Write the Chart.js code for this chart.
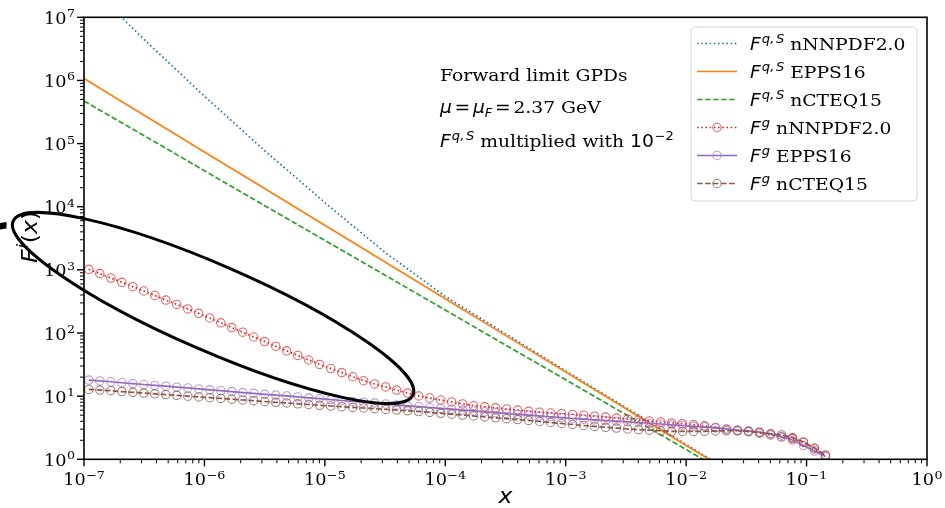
<!DOCTYPE html>
<html>
<head>
<meta charset="utf-8">
<script src="https://cdn.jsdelivr.net/npm/chart.js@4.4.1/dist/chart.umd.min.js"></script>
<style>
  html, body { margin: 0; padding: 0; background: #fff; }
  canvas { display: block; }
</style>
</head>
<body>
<canvas id="c" width="945" height="508"></canvas>
<script>
// ---- data -------------------------------------------------------------
// log10(x) of the sampled points of the gluon curves
const gluonLog10X = [
  -6.960, -6.869, -6.777, -6.686, -6.595, -6.504, -6.412, -6.321, -6.230, -6.138,
  -6.047, -5.956, -5.864, -5.773, -5.682, -5.591, -5.499, -5.408, -5.317, -5.225,
  -5.134, -5.043, -4.951, -4.860, -4.769, -4.678, -4.586, -4.495, -4.404, -4.312,
  -4.221, -4.130, -4.038, -3.947, -3.856, -3.765, -3.673, -3.582, -3.491, -3.399,
  -3.308, -3.217, -3.125, -3.034, -2.943, -2.852, -2.760, -2.669, -2.578, -2.486,
  -2.395, -2.304, -2.212, -2.121, -2.030, -1.939, -1.847, -1.756, -1.665, -1.573,
  -1.482, -1.391, -1.299, -1.208, -1.117, -1.026, -0.934, -0.843
];
const gluonNNPDF = [
  1021, 873, 743, 636, 542, 463, 393, 333, 284, 241,
  205, 173, 145, 122, 103, 86.5, 73.1, 61.8, 52.3, 44.2,
  37.4, 31.8, 27.4, 23.6, 20.3, 17.6, 15.6, 14.0, 12.5, 11.2,
  10.1, 9.35, 8.69, 8.11, 7.54, 7.06, 6.78, 6.54, 6.28, 6.01,
  5.75, 5.57, 5.41, 5.27, 5.14, 4.98, 4.82, 4.66, 4.50, 4.33,
  4.19, 4.04, 3.90, 3.77, 3.66, 3.53, 3.39, 3.18, 2.99, 2.85,
  2.74, 2.59, 2.43, 2.27, 2.13, 1.85, 1.46, 1.13
];
const gluonEPPS = [
  18.0, 17.4, 16.9, 16.3, 15.8, 15.3, 14.8, 14.4, 13.9, 13.5,
  13.0, 12.6, 12.2, 11.8, 11.4, 11.1, 10.7, 10.4, 10.1, 9.73,
  9.42, 9.12, 8.83, 8.54, 8.26, 8.02, 7.76, 7.51, 7.27, 7.04,
  6.81, 6.61, 6.40, 6.21, 6.01, 5.84, 5.65, 5.49, 5.31, 5.16,
  5.01, 4.85, 4.71, 4.56, 4.43, 4.32, 4.22, 4.12, 4.01, 3.93,
  3.83, 3.72, 3.62, 3.52, 3.43, 3.33, 3.25, 3.15, 3.02, 2.90,
  2.82, 2.69, 2.52, 2.26, 2.02, 1.65, 1.35, 1.11
];
const gluonCTEQ = [
  12.8, 12.5, 12.2, 11.8, 11.5, 11.2, 10.9, 10.6, 10.3, 9.98,
  9.73, 9.46, 9.22, 8.95, 8.69, 8.47, 8.23, 7.99, 7.80, 7.57,
  7.38, 7.17, 6.98, 6.81, 6.64, 6.49, 6.33, 6.17, 6.01, 5.86,
  5.71, 5.53, 5.35, 5.18, 5.01, 4.85, 4.69, 4.54, 4.40, 4.25,
  4.12, 3.97, 3.83, 3.69, 3.56, 3.43, 3.32, 3.21, 3.12, 3.02,
  2.95, 2.89, 2.83, 2.77, 2.76, 2.76, 2.77, 2.81, 2.83, 2.83,
  2.76, 2.68, 2.54, 2.43, 2.21, 1.88, 1.51, 1.17
];

// log10(x) of the sampled points of the quark-singlet curves (already x 1e-2)
const quarkLog10X = [-7, -6.5, -6, -5.5, -5, -4.5, -4, -3.5, -3, -2.5, -2, -1.5];
const quarkNNPDF = [3.8e7, 4.44e6, 5.62e5, 7.74e4, 1.16e4, 1890, 380, 97.7, 25.1, 6.6, 1.72, 0.45];
const quarkEPPS  = [1.07e6, 2.81e5, 7.38e4, 1.94e4, 5080, 1330, 350, 91.8, 24.1, 6.32, 1.66, 0.435];
const quarkCTEQ  = [4.73e5, 1.33e5, 3.72e4, 1.04e4, 2930, 822, 231, 64.7, 18.2, 5.09, 1.43, 0.40];

// decade exponents used for the tick labels
const xTickExponents = [-7, -6, -5, -4, -3, -2, -1, 0];
const yTickExponents = [0, 1, 2, 3, 4, 5, 6, 7];

// legend entries: [superscript, label]
const legendEntries = [
  ['q,S', 'nNNPDF2.0'],
  ['q,S', 'EPPS16'],
  ['q,S', 'nCTEQ15'],
  ['g', 'nNNPDF2.0'],
  ['g', 'EPPS16'],
  ['g', 'nCTEQ15']
];

// ---- styling ------------------------------------------------------------
const SERIF = '"DejaVu Serif", serif';
const SANS = '"DejaVu Sans", sans-serif';
const TICK_FS = 16.5;   // tick labels
const TEXT_FS = 17.5;   // legend and notes
const AXIS_FS = 22;     // axis titles
const HS = 1.07;        // horizontal stretch of the lettering
const serif = s => `${s}px ${SERIF}`;
const sans = s => `${s}px ${SANS}`;
const sansI = s => `italic ${s}px ${SANS}`;

const styles = [
  { color: '#1f77b4', dash: [1.6, 2.6], marker: false },
  { color: '#ff7f0e', dash: [],         marker: false },
  { color: '#2ca02c', dash: [5.6, 2.4], marker: false },
  { color: '#d62728', dash: [1.6, 2.6], marker: true, mcolor: 'rgba(230,60,62,0.8)' },
  { color: '#9467bd', dash: [],         marker: true, mcolor: 'rgba(160,120,210,0.75)' },
  { color: '#8c564b', dash: [5.6, 2.4], marker: true, mcolor: 'rgba(150,95,85,0.8)' }
];

function points(logXs, ys) {
  return logXs.map((e, i) => ({ x: Math.pow(10, e), y: ys[i] }));
}

const seriesData = [
  points(quarkLog10X, quarkNNPDF),
  points(quarkLog10X, quarkEPPS),
  points(quarkLog10X, quarkCTEQ),
  points(gluonLog10X, gluonNNPDF),
  points(gluonLog10X, gluonEPPS),
  points(gluonLog10X, gluonCTEQ)
];

const datasets = seriesData.map((d, i) => {
  const s = styles[i];
  return {
    label: legendEntries[i][1],
    data: d,
    borderColor: s.color,
    borderWidth: 1.7,
    borderDash: s.dash,
    tension: 0,
    fill: false,
    clip: 0,
    order: 6 - i,
    pointRadius: s.marker ? 4.2 : 0,
    pointHoverRadius: s.marker ? 4.2 : 0,
    pointBorderWidth: 1.1,
    pointBorderColor: s.mcolor || s.color,
    pointBackgroundColor: 'rgba(0,0,0,0)'
  };
});

// ---- text helpers --------------------------------------------------------
function runsWidth(ctx, parts) {
  let w = 0;
  for (const p of parts) { ctx.font = p.font; w += ctx.measureText(p.t).width + (p.gap || 0); }
  return w;
}
// draws a row of differently styled text pieces, stretched horizontally by HS
function drawRuns(ctx, parts, x, y, align) {
  const w = runsWidth(ctx, parts) * HS;
  const x0 = align === 'center' ? x - w / 2 : align === 'right' ? x - w : x;
  ctx.save();
  ctx.translate(x0, y);
  ctx.scale(HS, 1);
  ctx.textAlign = 'left';
  ctx.textBaseline = 'alphabetic';
  let cx = 0;
  for (const p of parts) {
    ctx.font = p.font;
    cx += (p.gap || 0);
    ctx.fillText(p.t, cx, p.dy || 0);
    cx += ctx.measureText(p.t).width;
  }
  ctx.restore();
  return w;
}
function powerLabel(exp) {
  const e = exp < 0 ? '\u2212' + (-exp) : String(exp);
  return [{ t: '10', font: serif(TICK_FS) }, { t: e, font: serif(11.8), dy: -6.5, gap: 0.5 }];
}
function fLabel(sup, fs) {
  const ss = fs * 0.7;
  if (sup === 'q,S') {
    return [{ t: 'F', font: sansI(fs) },
            { t: 'q,', font: sansI(ss), dy: -7, gap: 1 },
            { t: 'S', font: sansI(ss), dy: -7, gap: 1.5 }];
  }
  return [{ t: 'F', font: sansI(fs) }, { t: sup, font: sansI(ss), dy: -7, gap: 1 }];
}

// ---- decoration plugin: frame, ticks, labels, notes, legend ----------------
const decor = {
  id: 'decor',
  afterDraw(chart) {
    const ctx = chart.ctx;
    const a = chart.chartArea;
    const xs = chart.scales.x, ys = chart.scales.y;
    ctx.save();
    ctx.fillStyle = '#000';
    ctx.strokeStyle = '#000';

    // ticks
    for (let e = -7; e <= 0; e++) {
      for (let m = 1; m <= 9; m++) {
        if (e === 0 && m > 1) break;
        const px = xs.getPixelForValue(m * Math.pow(10, e));
        const len = m === 1 ? 7 : 4;
        ctx.lineWidth = m === 1 ? 1.4 : 1.0;
        ctx.beginPath(); ctx.moveTo(px, a.bottom); ctx.lineTo(px, a.bottom + len); ctx.stroke();
      }
    }
    for (let e = 0; e <= 7; e++) {
      for (let m = 1; m <= 9; m++) {
        if (e === 7 && m > 1) break;
        const py = ys.getPixelForValue(m * Math.pow(10, e));
        const len = m === 1 ? 7 : 4;
        ctx.lineWidth = m === 1 ? 1.4 : 1.0;
        ctx.beginPath(); ctx.moveTo(a.left, py); ctx.lineTo(a.left - len, py); ctx.stroke();
      }
    }

    // frame
    ctx.lineWidth = 1.6;
    ctx.strokeRect(a.left, a.top, a.right - a.left, a.bottom - a.top);

    // tick labels
    xTickExponents.forEach(e => {
      drawRuns(ctx, powerLabel(e), xs.getPixelForValue(Math.pow(10, e)), a.bottom + 26, 'center');
    });
    yTickExponents.forEach(e => {
      drawRuns(ctx, powerLabel(e), a.left - 9, ys.getPixelForValue(Math.pow(10, e)) + 6.5, 'right');
    });

    // axis titles
    drawRuns(ctx, [{ t: 'x', font: sansI(AXIS_FS) }], (a.left + a.right) / 2, 503, 'center');
    ctx.save();
    ctx.translate(37, 237);
    ctx.rotate(-Math.PI / 2);
    drawRuns(ctx, [
      { t: 'F', font: sansI(AXIS_FS) },
      { t: 'i', font: sansI(AXIS_FS * 0.7), dy: -9, gap: 1 },
      { t: '(', font: sans(AXIS_FS), gap: 0.5 },
      { t: 'x', font: sansI(AXIS_FS) },
      { t: ')', font: sans(AXIS_FS) }
    ], 0, 0, 'center');
    ctx.restore();

    // notes
    const nx = 440;
    drawRuns(ctx, [{ t: 'Forward limit GPDs', font: serif(TEXT_FS) }], nx, 81, 'left');
    drawRuns(ctx, [
      { t: '\u03bc', font: sansI(TEXT_FS) },
      { t: '=', font: sans(TEXT_FS), gap: 2.5 },
      { t: '\u03bc', font: sansI(TEXT_FS), gap: 2.5 },
      { t: 'F', font: sansI(TEXT_FS * 0.7), dy: 3.5 },
      { t: '=', font: sans(TEXT_FS), gap: 2.5 },
      { t: '2.37 GeV', font: serif(TEXT_FS), gap: 2.5 }
    ], nx, 113, 'left');
    drawRuns(ctx, fLabel('q,S', TEXT_FS).concat([
      { t: ' multiplied with ', font: serif(TEXT_FS) },
      { t: '10', font: sans(TEXT_FS) },
      { t: '\u22122', font: sans(TEXT_FS * 0.7), dy: -7, gap: 0.5 }
    ]), nx, 147, 'left');

    // highlight ellipse around the nNNPDF2.0 gluon curve
    const cx = xs.getPixelForValue(1.18e-6);
    const cy = ys.getPixelForValue(249);
    ctx.lineWidth = 3;
    ctx.beginPath();
    ctx.ellipse(cx, cy, 218, 43, 23.5 * Math.PI / 180, 0, Math.PI * 2);
    ctx.stroke();
    ctx.beginPath();
    ctx.moveTo(0, 223); ctx.lineTo(6.5, 222); ctx.lineTo(6.5, 228.5); ctx.lineTo(0, 229.5);
    ctx.closePath(); ctx.fill();

    // legend
    const L = { x: 691, y: 27, w: 226, h: 174, r: 4 };
    ctx.beginPath();
    ctx.roundRect(L.x, L.y, L.w, L.h, L.r);
    ctx.fillStyle = 'rgba(255,255,255,0.85)';
    ctx.fill();
    ctx.strokeStyle = '#d6d6d6';
    ctx.lineWidth = 1;
    ctx.stroke();
    legendEntries.forEach((en, i) => {
      const s = styles[i];
      const yc = 43.5 + 28 * i;
      ctx.save();
      ctx.strokeStyle = s.color;
      ctx.lineWidth = 1.7;
      ctx.setLineDash(s.dash);
      ctx.beginPath(); ctx.moveTo(697, yc); ctx.lineTo(737, yc); ctx.stroke();
      ctx.setLineDash([]);
      if (s.marker) {
        ctx.strokeStyle = s.mcolor;
        ctx.lineWidth = 1.1;
        ctx.beginPath(); ctx.arc(717, yc, 4.2, 0, Math.PI * 2); ctx.stroke();
      }
      ctx.restore();
      ctx.fillStyle = '#000';
      drawRuns(ctx, fLabel(en[0], TEXT_FS).concat([{ t: ' ' + en[1], font: serif(TEXT_FS) }]), 750, yc + 6, 'left');
    });

    ctx.restore();
  }
};

new Chart(document.getElementById('c'), {
  type: 'line',
  data: { datasets },
  options: {
    responsive: false,
    animation: false,
    events: [],
    layout: { padding: { top: 17.3, right: 18, left: 0, bottom: 0 } },
    plugins: { legend: { display: false }, tooltip: { enabled: false } },
    scales: {
      x: {
        type: 'logarithmic', min: 1e-7, max: 1,
        grid: { display: false }, border: { display: false }, ticks: { display: false },
        afterFit(s) { s.height = 48.7; }
      },
      y: {
        type: 'logarithmic', min: 1, max: 1e7,
        grid: { display: false }, border: { display: false }, ticks: { display: false },
        afterFit(s) { s.width = 84; }
      }
    }
  },
  plugins: [decor]
});
</script>
</body>
</html>
